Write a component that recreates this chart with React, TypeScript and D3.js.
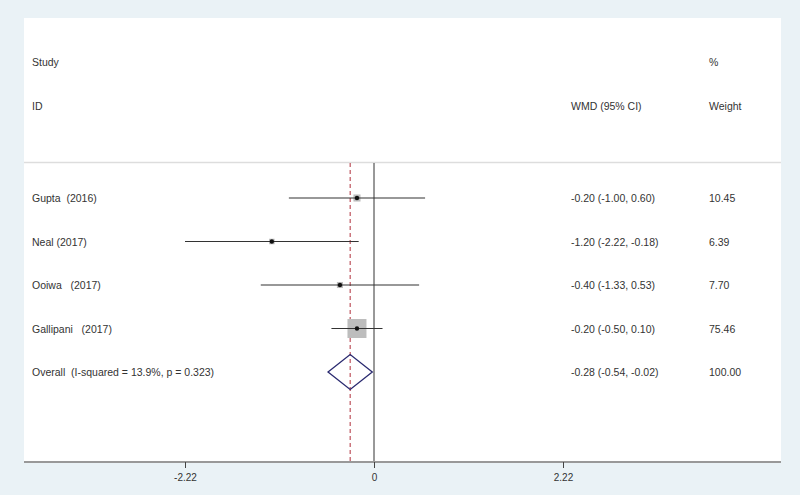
import * as d3 from "d3";
import { useEffect, useRef } from "react";

const studies = ["Gupta  (2016)", "Neal (2017)", "Ooiwa   (2017)", "Gallipani   (2017)"];
const estimates = [-0.2, -1.2, -0.4, -0.2];
const lower = [-1.0, -2.22, -1.33, -0.5];
const upper = [0.6, -0.18, 0.53, 0.1];
const weights = [10.45, 6.39, 7.7, 75.46];

const overallLabel = "Overall  (I-squared = 13.9%, p = 0.323)";
const overall = { est: -0.28, lo: -0.54, hi: -0.02, weight: 100.0 };

const tickValues = [-2.22, 0, 2.22];
const tickLabels = ["-2.22", "0", "2.22"];

const W = 800;
const H = 495;
const panel = { left: 24, right: 781, top: 18, bottom: 462 };
const font = "'Liberation Sans', Arial, sans-serif";
const textColor = "#333";

// plain hyphen minus, like the original
const fmt = (v: number) => v.toFixed(2);

export default function App() {
  const axisRef = useRef<SVGGElement>(null);

  const x = d3.scaleLinear().domain([-2.22, 2.22]).range([185, 563]);
  const rows = [...studies, overallLabel];
  const y = d3.scalePoint<string>().domain(rows).range([198, 372]);
  const boxSide = d3.scaleSqrt().domain([0, 75.46]).range([0, 19]);

  const ciText = (e: number, l: number, h: number) => `${fmt(e)} (${fmt(l)}, ${fmt(h)})`;

  useEffect(() => {
    if (!axisRef.current) return;
    const axis = d3
      .axisBottom(x)
      .tickValues(tickValues)
      .tickFormat((_, i) => tickLabels[i])
      .tickSizeOuter(0)
      .tickSize(6)
      .tickPadding(6);
    const g = d3.select(axisRef.current);
    g.call(axis as any);
    g.select(".domain").remove();
    g.selectAll("line").attr("stroke", "#444");
    g.selectAll("text")
      .attr("font-family", font)
      .attr("font-size", 10)
      .attr("fill", textColor);
  }, []);

  const overallY = y(overallLabel)!;

  return (
    <svg
      width={W}
      height={H}
      style={{ position: "absolute", left: 0, top: 0, display: "block" }}
      fontFamily={font}
      fontSize={10.5}
    >
      <rect x={0} y={0} width={W} height={H} fill="#EAF2F6" />
      <rect
        x={panel.left}
        y={panel.top}
        width={panel.right - panel.left}
        height={panel.bottom - panel.top}
        fill="#fff"
      />

      {/* header */}
      <g fill={textColor}>
        <text x={32} y={65.5}>Study</text>
        <text x={32} y={109.5}>ID</text>
        <text x={571} y={109.5}>WMD (95% CI)</text>
        <text x={709} y={65.5}>%</text>
        <text x={709} y={109.5}>Weight</text>
      </g>
      <line x1={panel.left} x2={panel.right} y1={162.5} y2={162.5} stroke="#ddd" strokeWidth={1.5} />

      {/* null line and overall line */}
      <line x1={x(0)} x2={x(0)} y1={163} y2={panel.bottom} stroke="#333" strokeWidth={1} />
      <line
        x1={x(overall.est)}
        x2={x(overall.est)}
        y1={163}
        y2={panel.bottom}
        stroke="#b0303c"
        strokeWidth={1}
        strokeDasharray="4,3"
      />

      {/* studies */}
      {studies.map((s, i) => {
        const cy = y(s)!;
        const side = boxSide(weights[i]);
        return (
          <g key={s}>
            <text x={32} y={cy + 4} fill={textColor} style={{ whiteSpace: "pre" }}>{s}</text>
            <rect x={x(estimates[i]) - side / 2} y={cy - side / 2} width={side} height={side} fill="#bdbdbd" />
            <line x1={x(lower[i])} x2={x(upper[i])} y1={cy} y2={cy} stroke="#333" strokeWidth={1.2} />
            <circle cx={x(estimates[i])} cy={cy} r={2.2} fill="#111" />
            <text x={571} y={cy + 4} fill={textColor}>{ciText(estimates[i], lower[i], upper[i])}</text>
            <text x={709} y={cy + 4} fill={textColor}>{fmt(weights[i])}</text>
          </g>
        );
      })}

      {/* overall */}
      <text x={32} y={overallY + 4} fill={textColor} style={{ whiteSpace: "pre" }}>{overallLabel}</text>
      <path
        d={`M${x(overall.lo)},${overallY} L${x(overall.est)},${overallY - 17.5} L${x(overall.hi)},${overallY} L${x(overall.est)},${overallY + 17.5} Z`}
        fill="none"
        stroke="#2a2a70"
        strokeWidth={1.3}
      />
      <text x={571} y={overallY + 4} fill={textColor}>{ciText(overall.est, overall.lo, overall.hi)}</text>
      <text x={709} y={overallY + 4} fill={textColor}>{fmt(overall.weight)}</text>

      {/* axis */}
      <line x1={panel.left} x2={panel.right} y1={panel.bottom} y2={panel.bottom} stroke="#999" strokeWidth={2} />
      <g ref={axisRef} transform={`translate(0,${panel.bottom})`} />
    </svg>
  );
}
